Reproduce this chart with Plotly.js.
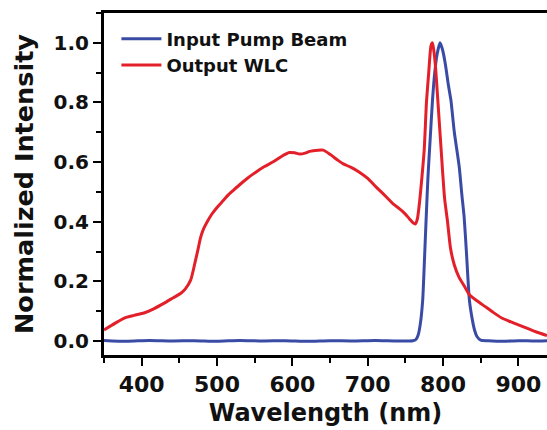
<!DOCTYPE html>
<html>
<head>
<meta charset="utf-8">
<script src="https://cdn.plot.ly/plotly-3.0.1.min.js"></script>
<style>html,body{margin:0;padding:0;background:#fff;}#chart{width:547px;height:430px;}</style>
</head>
<body>
<div id="chart"></div>
<script>
// Input pump beam
const pumpWavelength = [350, 380, 410, 440, 470, 500, 530, 560, 590, 620, 650, 680, 710, 740, 760, 764, 767, 770, 773, 775, 777.5, 780, 783, 786, 789, 792, 796, 799, 803, 807, 810.5, 815, 821.5, 825, 828, 831, 835, 839, 842, 845, 850, 860, 880, 900, 920, 938];
const pumpIntensity = [0.002, -0.001, 0.002, 0.0, 0.001, -0.001, 0.002, 0.0, 0.001, -0.001, 0.001, 0.0, 0.002, 0.0, 0.001, 0.005, 0.02, 0.06, 0.137, 0.25, 0.405, 0.55, 0.68, 0.807, 0.9, 0.96, 1.0, 0.98, 0.93, 0.86, 0.807, 0.7, 0.584, 0.49, 0.416, 0.3, 0.137, 0.07, 0.035, 0.015, 0.003, 0.001, -0.001, 0.001, 0.0, 0.001];

// Output white-light continuum
const wlcWavelength = [350, 365, 377, 390, 403, 416, 430, 442, 452, 458, 465, 471, 475, 478, 482, 487, 493, 500, 508, 515, 522, 530, 540, 552, 563, 574, 585, 596, 603, 610, 617, 623, 634, 641, 650, 660, 667, 678, 689, 700, 711, 720, 729, 735, 742, 749, 755, 760, 763, 766, 769, 772, 775, 778, 781, 784, 786, 788, 790, 793, 797, 802, 806, 810, 815, 821, 828, 835, 845, 855, 866, 878, 890, 900, 912, 923, 938];
const wlcIntensity = [0.037, 0.06, 0.077, 0.086, 0.094, 0.108, 0.127, 0.145, 0.16, 0.175, 0.204, 0.265, 0.31, 0.345, 0.375, 0.4, 0.425, 0.448, 0.47, 0.49, 0.506, 0.524, 0.545, 0.567, 0.585, 0.60, 0.618, 0.632, 0.631, 0.627, 0.63, 0.636, 0.64, 0.64, 0.626, 0.607, 0.595, 0.582, 0.566, 0.545, 0.517, 0.495, 0.472, 0.457, 0.444, 0.428, 0.411, 0.397, 0.392, 0.41, 0.47, 0.55, 0.64, 0.8, 0.9, 0.99, 1.0, 0.97, 0.92, 0.81, 0.66, 0.48, 0.40, 0.31, 0.255, 0.215, 0.185, 0.155, 0.135, 0.117, 0.097, 0.077, 0.064, 0.054, 0.042, 0.031, 0.018];

const seriesNames = ['Input Pump Beam', 'Output WLC'];
const xTitle = 'Wavelength (nm)';
const yTitle = 'Normalized Intensity';

const FONT = 'DejaVu Sans, sans-serif';

const traces = [
  {x: pumpWavelength, y: pumpIntensity, name: seriesNames[0], type: 'scatter', mode: 'lines',
   line: {color: '#3a4ba6', width: 3, shape: 'spline', smoothing: 0.6}},
  {x: wlcWavelength, y: wlcIntensity, name: seriesNames[1], type: 'scatter', mode: 'lines',
   line: {color: '#e3202a', width: 3, shape: 'spline', smoothing: 0.6}}
];

const layout = {
  width: 547, height: 430,
  margin: {l: 104, r: 0, t: 13, b: 75, pad: 0},
  paper_bgcolor: '#ffffff', plot_bgcolor: '#ffffff',
  font: {family: FONT, color: '#111', weight: 'bold'},
  showlegend: true,
  legend: {x: 0.028, y: 0.978, xanchor: 'left', yanchor: 'top', bgcolor: 'rgba(0,0,0,0)',
           font: {family: FONT, size: 18, color: '#111', weight: 'bold'}, itemwidth: 40, tracegroupgap: 0},
  xaxis: {
    range: [350, 938], showgrid: false, zeroline: false,
    showline: true, linecolor: '#000', linewidth: 3, mirror: true,
    ticks: 'outside', ticklen: 8, tickwidth: 2, tickcolor: '#000',
    tick0: 0, dtick: 100,
    minor: {dtick: 50, tick0: 0, ticks: 'outside', ticklen: 5, tickwidth: 2, tickcolor: '#000', showgrid: false},
    tickfont: {family: FONT, size: 22, color: '#111', weight: 'bold'},
    title: {text: xTitle, font: {family: FONT, size: 24, color: '#111', weight: 'bold'}, standoff: 8}
  },
  yaxis: {
    range: [-0.047, 1.1], showgrid: false, zeroline: false,
    showline: true, linecolor: '#000', linewidth: 3, mirror: false,
    ticks: 'outside', ticklen: 8, tickwidth: 2, tickcolor: '#000',
    tick0: 0, dtick: 0.2, tickformat: '.1f',
    minor: {dtick: 0.1, tick0: 0, ticks: 'outside', ticklen: 5, tickwidth: 2, tickcolor: '#000', showgrid: false},
    tickfont: {family: FONT, size: 20, color: '#111', weight: 'bold'},
    title: {text: yTitle, font: {family: FONT, size: 25.5, color: '#111', weight: 'bold'}, standoff: 13}
  }
};

Plotly.newPlot('chart', traces, layout, {staticPlot: true, displayModeBar: false});
</script>
</body>
</html>
